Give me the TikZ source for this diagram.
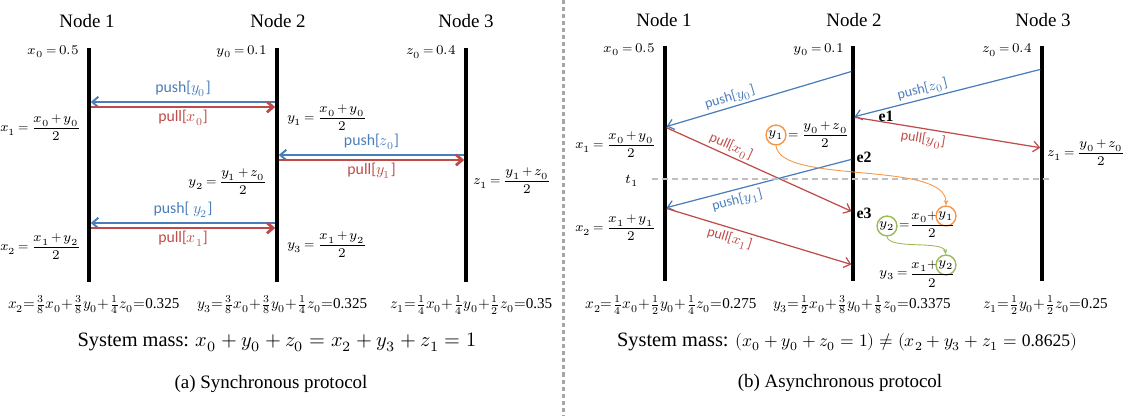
\documentclass[tikz,border=0pt]{standalone}
\usepackage{amsmath}
\usepackage{fontspec}
\usepackage{unicode-math}
\setmainfont{Liberation Serif}
\setmathfont{latinmodern-math.otf}
\newfontfamily\msgfont{Carlito}
\usetikzlibrary{arrows.meta, positioning, calc}
\definecolor{pushblue}{RGB}{74,126,187}
\definecolor{pullred}{RGB}{190,75,72}
\definecolor{markorange}{RGB}{247,150,70}
\definecolor{markgreen}{RGB}{155,187,89}
\definecolor{sepgray}{RGB}{166,166,166}
\definecolor{cutgray}{RGB}{191,191,191}
\newcommand{\tightmath}{\thickmuskip=3.5mu\medmuskip=2.5mu}

\begin{document}
\begin{tikzpicture}[x=0.02cm, y=-0.02cm,
  nodetitle/.style={font=\fontsize{10.8}{13}\selectfont},
  val/.style={font=\fontsize{7.6}{9}\selectfont\tightmath, inner sep=1pt},
  eqsum/.style={font=\fontsize{8.6}{10}\selectfont, inner sep=0pt, anchor=west},
  mass/.style={font=\fontsize{11.6}{14}\selectfont},
  lifeline/.style={line width=2.2pt},
  tip/.style={-{Straight Barb[length=3.5pt,width=6pt]}},
  pushA/.style={tip, draw=pushblue, line width=1.1pt, shorten >=1pt, shorten <=1pt},
  pullA/.style={tip, draw=pullred, line width=1.6pt, shorten >=1pt, shorten <=1pt},
  pushB/.style={tip, draw=pushblue, line width=0.7pt, shorten >=1pt, shorten <=1pt},
  pullB/.style={tip, draw=pullred, line width=0.7pt, shorten >=1pt, shorten <=1pt},
  pushlab/.style={text=pushblue, font=\msgfont\fontsize{9}{10}\selectfont, inner sep=1pt},
  pulllab/.style={text=pullred, font=\msgfont\fontsize{9}{10}\selectfont, inner sep=1pt},
  pushlabB/.style={pushlab, font=\msgfont\fontsize{8}{9}\selectfont, sloped},
  pulllabB/.style={pulllab, font=\msgfont\fontsize{8}{9}\selectfont, sloped},
  evt/.style={font=\fontsize{9}{10}\selectfont\bfseries, inner sep=1pt},
  ring/.style={circle, draw, line width=0.8pt, inner sep=0.5pt, minimum size=10pt,
    font=\fontsize{7.6}{9}\selectfont},
  trail/.style={line width=0.5pt, -{Stealth[length=3pt,width=2.5pt]}},
]
  \useasboundingbox (0,0) rectangle (1136,416);

  % --- (a) synchronous protocol --------------------------------------
  \node[nodetitle] (a1) at (87,21)  {Node 1};
  \node[nodetitle] (a2) at (278,21) {Node 2};
  \node[nodetitle] (a3) at (466,21) {Node 3};
  \coordinate (a1t) at (89,48);  \coordinate (a1b) at (89,282);
  \coordinate (a2t) at (277,48); \coordinate (a2b) at (277,282);
  \coordinate (a3t) at (466,48); \coordinate (a3b) at (466,282);
  \draw[lifeline] (a1t) -- (a1b);
  \draw[lifeline] (a2t) -- (a2b);
  \draw[lifeline] (a3t) -- (a3b);
  \node[val, anchor=east] (ax0) at (81,52)  {$x_0 = 0.5$};
  \node[val, anchor=east] (ay0) at (269,52) {$y_0 = 0.1$};
  \node[val, anchor=east] (az0) at (458,52) {$z_0 = 0.4$};
  % exchange node 1 <-> node 2
  \coordinate (p1r) at (277,102); \coordinate (p1l) at (89,102);
  \coordinate (q1l) at (89,107);  \coordinate (q1r) at (277,107);
  \draw[pushA] (p1r) -- (p1l) node[pushlab, midway, above=1.5pt] (lp1) {push[$y_0$]};
  \draw[pullA] (q1l) -- (q1r) node[pulllab, midway, below=0pt] (lq1) {pull[$x_0$]};
  \node[val, anchor=east] (ax1) at (83,128)  {$x_1 = \dfrac{x_0+y_0}{2}$};
  \node[val, anchor=west] (ay1) at (285,118) {$y_1 = \dfrac{x_0+y_0}{2}$};
  % exchange node 2 <-> node 3
  \coordinate (p2r) at (466,155); \coordinate (p2l) at (277,155);
  \coordinate (q2l) at (277,160); \coordinate (q2r) at (466,160);
  \draw[pushA] (p2r) -- (p2l) node[pushlab, midway, above=1.5pt] (lp2) {push[$z_0$]};
  \draw[pullA] (q2l) -- (q2r) node[pulllab, midway, below=0pt] (lq2) {pull[$y_1$]};
  \node[val, anchor=east] (ay2) at (269,182) {$y_2 = \dfrac{y_1+z_0}{2}$};
  \node[val, anchor=west] (az1) at (471,181) {$z_1 = \dfrac{y_1+z_0}{2}$};
  % exchange node 1 <-> node 2 again
  \coordinate (p3r) at (277,223); \coordinate (p3l) at (89,223);
  \coordinate (q3l) at (89,228);  \coordinate (q3r) at (277,228);
  \draw[pushA] (p3r) -- (p3l) node[pushlab, midway, above=1.5pt] (lp3) {push[ $y_2$]};
  \draw[pullA] (q3l) -- (q3r) node[pulllab, midway, below=0pt] (lq3) {pull[$x_1$]};
  \node[val, anchor=east] (ax2) at (83,247)  {$x_2 = \dfrac{x_1+y_2}{2}$};
  \node[val, anchor=west] (ay3) at (285,245) {$y_3 = \dfrac{x_1+y_2}{2}$};
  % results
  \node[eqsum] (sx) at (8,305)   {$x_2{=}\tfrac{3}{8}x_0{+}\tfrac{3}{8}y_0{+}\tfrac{1}{4}z_0{=}$0.325};
  \node[eqsum] (sy) at (197,305) {$y_3{=}\tfrac{3}{8}x_0{+}\tfrac{3}{8}y_0{+}\tfrac{1}{4}z_0{=}$0.325};
  \node[eqsum] (sz) at (390,305) {$z_1{=}\tfrac{1}{4}x_0{+}\tfrac{1}{4}y_0{+}\tfrac{1}{2}z_0{=}$0.35};
  \node[mass] (ma) at (277,342) {System mass: $x_0+y_0+z_0=x_2+y_3+z_1=1$};
  \node[nodetitle] (ca) at (271,384) {(a) Synchronous protocol};

  % --- separator -------------------------------------------------------
  \coordinate (sept) at (563,0); \coordinate (sepb) at (563,416);
  \draw[sepgray, line width=1.7pt, dash pattern=on 2.3pt off 1.7pt] (sept) -- (sepb);

  % --- (b) asynchronous protocol -------------------------------------
  \node[nodetitle] (b1) at (664,20)  {Node 1};
  \node[nodetitle] (b2) at (854,20)  {Node 2};
  \node[nodetitle] (b3) at (1043,20) {Node 3};
  \coordinate (b1t) at (665,46);  \coordinate (b1b) at (665,281);
  \coordinate (b2t) at (853,46);  \coordinate (b2b) at (853,281);
  \coordinate (b3t) at (1042,46); \coordinate (b3b) at (1042,281);
  \draw[lifeline] (b1t) -- (b1b);
  \draw[lifeline] (b2t) -- (b2b);
  \draw[lifeline] (b3t) -- (b3b);
  \node[val, anchor=east] (bx0) at (657,50)  {$x_0 = 0.5$};
  \node[val, anchor=east] (by0) at (846,50)  {$y_0 = 0.1$};
  \node[val, anchor=east] (bz0) at (1034,50) {$z_0 = 0.4$};
  % message end points on the lifelines
  \coordinate (s2a) at (853,71);   \coordinate (s1a) at (665,127);
  \coordinate (s3a) at (1042,69);  \coordinate (s2b) at (853,117);
  \coordinate (s3b) at (1042,148); \coordinate (s2d) at (853,212);
  \coordinate (s2c) at (853,159);  \coordinate (s1b) at (665,208);
  \coordinate (s2e) at (853,265);
  \draw[pushB] (s2a) -- (s1a) node[pushlabB, pos=0.64, above=0pt] (mp1) {push[$y_0$]};
  \draw[pushB] (s3a) -- (s2b) node[pushlabB, pos=0.62, above=0pt] (mp2) {push[$z_0$]};
  \draw[pullB] (s2b) -- (s3b) node[pulllabB, pos=0.38, below=1pt] (mq2) {pull[$y_0$]};
  \draw[pullB] (s1a) -- (s2d) node[pulllabB, pos=0.33, above=0pt] (mq1) {pull[$x_0$]};
  \draw[pushB] (s2c) -- (s1b) node[pushlabB, pos=0.63, below=1pt] (mp3) {push[$y_1$]};
  \draw[pullB] (s1b) -- (s2e) node[pulllabB, pos=0.36, below=1pt] (mq3) {pull[$x_1$]};
  \node[evt] (e1) at (886,116) {e1};
  \node[evt] (e2) at (864,157) {e2};
  \node[evt] (e3) at (864,213) {e3};
  % cut at t1
  \node[val] (t1) at (632,181) {$t_1$};
  \coordinate (cutl) at (652,179); \coordinate (cutr) at (1052,179);
  \draw[cutgray, line width=1.6pt, dash pattern=on 3.4pt off 2.3pt] (cutl) -- (cutr);
  % local values
  \node[val, anchor=east] (bx1) at (658,145)  {$x_1 = \dfrac{x_0+y_0}{2}$};
  \node[val, anchor=east] (bx2) at (658,228)  {$x_2 = \dfrac{x_1+y_1}{2}$};
  \node[val, anchor=west] (bz1) at (1045,153) {$z_1 = \dfrac{y_0+z_0}{2}$};
  \node[ring, draw=markorange] (r1) at (776,135) {$y_1$};
  \node[val, right=0pt of r1] (by1) {$=\dfrac{y_0+z_0}{2}$};
  % y2 with the stale y1
  \node[ring, draw=markgreen] (r2) at (887,226) {$y_2$};
  \node[val, right=0pt of r2] (eq2) {$=$};
  \node[val] (num2) at (925,217) {$x_0+$};
  \node[ring, draw=markorange] (r3) at (946,216) {$y_1$};
  \draw[line width=0.4pt] (912,225) -- (953,225);
  \node[val] (den2) at (932,233) {$2$};
  % y3 with y2
  \node[val, anchor=east] (ly3) at (910,275) {$y_3 =$};
  \node[val] (num3) at (925,266) {$x_1+$};
  \node[ring, draw=markgreen] (r4) at (946,265) {$y_2$};
  \draw[line width=0.4pt] (912,274) -- (953,274);
  \node[val] (den3) at (932,283) {$2$};
  % carried values
  \draw[trail, markorange] (r1.south) .. controls (780,185) and (946,160) .. (r3.north);
  \draw[trail, markgreen]  (r2.south) .. controls (889,250) and (943,240) .. (r4.north);
  % results
  \node[eqsum] (tx) at (585,305) {$x_2{=}\tfrac{1}{4}x_0{+}\tfrac{1}{2}y_0{+}\tfrac{1}{4}z_0{=}$0.275};
  \node[eqsum] (ty) at (773,305) {$y_3{=}\tfrac{1}{2}x_0{+}\tfrac{3}{8}y_0{+}\tfrac{1}{8}z_0{=}$0.3375};
  \node[eqsum] (tz) at (983,305) {$z_1{=}\tfrac{1}{2}y_0{+}\tfrac{1}{2}z_0{=}$0.25};
  \node[mass] (mb) at (847,342) {System mass: {\fontsize{10}{12}\selectfont$(x_0+y_0+z_0=1)\neq(x_2+y_3+z_1=\mbox{0.8625})$}};
  \node[nodetitle] (cb) at (840,383) {(b) Asynchronous protocol};
\end{tikzpicture}
\end{document}
